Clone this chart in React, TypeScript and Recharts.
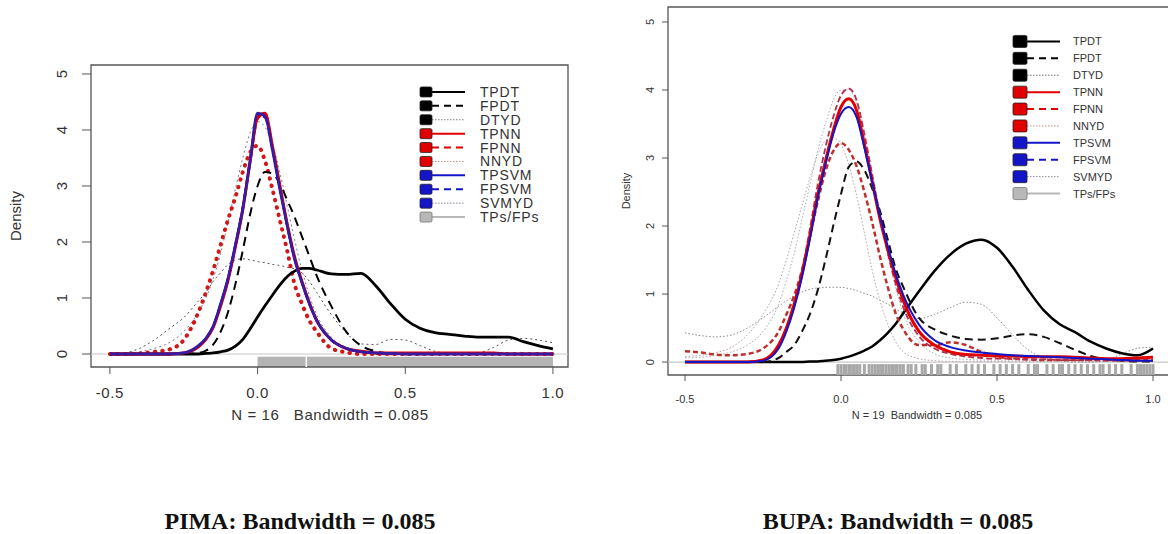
import { ComposedChart, Line, XAxis, YAxis, ReferenceArea, ReferenceLine } from "recharts";

// shared x grid of the density estimates
const xs = [
  -0.5, -0.45, -0.4, -0.35, -0.3, -0.25, -0.2, -0.175, -0.15, -0.125, -0.1, -0.075, -0.05, -0.025,
  0, 0.025, 0.05, 0.075, 0.1, 0.125, 0.15, 0.175, 0.2, 0.25, 0.3, 0.35, 0.4, 0.45, 0.5, 0.55, 0.6,
  0.65, 0.7, 0.75, 0.8, 0.85, 0.9, 0.95, 1.0,
];

const xTicks = [-0.5, 0, 0.5, 1.0];
const yTicks = [0, 1, 2, 3, 4, 5];

// ---- PIMA ----
const pimaTPDT = [0, 0, 0, 0, 0, 0, 0, 0.01, 0.02, 0.04, 0.07, 0.14, 0.26, 0.45, 0.66, 0.86, 1.05, 1.23, 1.38, 1.48, 1.53, 1.53, 1.5, 1.43, 1.42, 1.44, 1.22, 0.9, 0.62, 0.46, 0.38, 0.35, 0.32, 0.3, 0.3, 0.3, 0.22, 0.15, 0.09];
const pimaFPDT = [0, 0, 0, 0, 0, 0, 0.02, 0.06, 0.17, 0.4, 0.75, 1.25, 1.85, 2.5, 3.0, 3.25, 3.22, 3.05, 2.75, 2.45, 2.1, 1.75, 1.4, 0.85, 0.4, 0.15, 0.05, 0.01, 0, 0, 0, 0, 0, 0, 0, 0, 0, 0, 0];
const pimaDTYD = [0, 0.02, 0.1, 0.25, 0.45, 0.65, 0.95, 1.1, 1.3, 1.45, 1.6, 1.68, 1.7, 1.68, 1.65, 1.63, 1.6, 1.58, 1.55, 1.52, 1.45, 1.3, 1.1, 0.7, 0.38, 0.18, 0.17, 0.26, 0.25, 0.15, 0.05, 0.01, 0, 0.02, 0.12, 0.25, 0.28, 0.25, 0.2];
const pimaTPNN = [0, 0, 0, 0, 0, 0.02, 0.13, 0.26, 0.48, 0.86, 1.32, 1.92, 2.58, 3.45, 4.22, 4.3, 3.72, 3.02, 2.33, 1.74, 1.3, 0.92, 0.6, 0.25, 0.1, 0.05, 0.02, 0.02, 0.02, 0.02, 0.02, 0.02, 0.02, 0.02, 0.02, 0, 0, 0, 0];
const pimaFPNN = [0, 0, 0, 0, 0, 0.02, 0.14, 0.27, 0.5, 0.88, 1.33, 1.93, 2.6, 3.45, 4.2, 4.3, 3.7, 3.0, 2.3, 1.72, 1.28, 0.9, 0.6, 0.25, 0.1, 0.04, 0.01, 0, 0, 0, 0, 0, 0, 0, 0, 0, 0, 0, 0];
const pimaNNYD = [0, 0, 0.01, 0.04, 0.08, 0.25, 0.75, 1.1, 1.5, 1.95, 2.4, 2.8, 3.25, 3.6, 3.72, 3.45, 2.95, 2.4, 1.85, 1.25, 0.9, 0.6, 0.4, 0.1, 0.03, 0, 0, 0, 0, 0, 0, 0, 0, 0, 0, 0, 0, 0, 0];
const pimaTPSVM = [0, 0, 0, 0, 0, 0.02, 0.15, 0.28, 0.5, 0.9, 1.35, 1.95, 2.6, 3.45, 4.3, 4.25, 3.65, 2.95, 2.3, 1.7, 1.28, 0.9, 0.6, 0.25, 0.1, 0.04, 0.02, 0.01, 0, 0, 0, 0, 0, 0, 0, 0, 0, 0, 0];
const pimaFPSVM = [0, 0, 0, 0, 0, 0.02, 0.15, 0.28, 0.5, 0.9, 1.36, 1.96, 2.62, 3.48, 4.28, 4.22, 3.66, 2.96, 2.3, 1.7, 1.28, 0.9, 0.6, 0.25, 0.1, 0.04, 0.02, 0.01, 0, 0, 0, 0, 0, 0, 0, 0, 0, 0, 0];
const pimaSVMYD = [0, 0.01, 0.04, 0.1, 0.2, 0.4, 0.75, 1.0, 1.35, 1.8, 2.35, 2.95, 3.5, 3.95, 4.15, 4.05, 3.75, 3.25, 2.65, 2.05, 1.5, 1.05, 0.7, 0.3, 0.12, 0.05, 0.02, 0, 0, 0, 0, 0, 0, 0, 0, 0, 0, 0, 0];
const pimaRugSpan = [0, 1.0];
const pimaRugGap = [0.165];

// ---- BUPA ----
const bupaTPDT = [0, 0, 0, 0, 0, 0, 0, 0, 0, 0, 0.01, 0.01, 0.02, 0.03, 0.05, 0.08, 0.12, 0.17, 0.23, 0.32, 0.43, 0.56, 0.72, 1.04, 1.34, 1.58, 1.74, 1.8, 1.68, 1.4, 1.06, 0.76, 0.56, 0.44, 0.3, 0.2, 0.13, 0.1, 0.2];
const bupaFPDT = [0, 0, 0, 0, 0, 0, 0.06, 0.15, 0.25, 0.45, 0.7, 1.05, 1.5, 2.0, 2.47, 2.87, 2.95, 2.82, 2.55, 2.22, 1.8, 1.38, 1.1, 0.65, 0.48, 0.39, 0.34, 0.33, 0.35, 0.39, 0.41, 0.37, 0.28, 0.18, 0.09, 0.04, 0.02, 0.01, 0.01];
const bupaDTYD = [0.43, 0.39, 0.37, 0.4, 0.5, 0.65, 0.82, 0.9, 0.97, 1.03, 1.07, 1.09, 1.1, 1.1, 1.1, 1.08, 1.05, 1.01, 0.97, 0.91, 0.85, 0.78, 0.72, 0.64, 0.7, 0.8, 0.88, 0.85, 0.65, 0.4, 0.18, 0.06, 0.02, 0, 0, 0.03, 0.12, 0.2, 0.22];
const bupaTPNN = [0, 0, 0, 0, 0, 0.03, 0.25, 0.5, 0.85, 1.3, 1.85, 2.45, 2.95, 3.4, 3.75, 3.87, 3.7, 3.2, 2.65, 2.1, 1.65, 1.25, 0.9, 0.45, 0.25, 0.15, 0.11, 0.1, 0.09, 0.09, 0.08, 0.08, 0.08, 0.07, 0.06, 0.05, 0.05, 0.06, 0.07];
const bupaFPNN = [0.16, 0.14, 0.11, 0.1, 0.12, 0.2, 0.45, 0.7, 0.98, 1.35, 1.85, 2.35, 2.8, 3.1, 3.22, 3.12, 2.88, 2.5, 2.05, 1.55, 1.1, 0.72, 0.48, 0.25, 0.25, 0.29, 0.25, 0.15, 0.08, 0.05, 0.04, 0.03, 0.03, 0.03, 0.03, 0.03, 0.03, 0.03, 0.03];
const bupaNNYD = [0.08, 0.1, 0.14, 0.22, 0.4, 0.7, 1.15, 1.5, 1.9, 2.3, 2.7, 3.05, 3.25, 3.3, 3.2, 2.9, 2.45, 1.9, 1.35, 0.9, 0.55, 0.3, 0.15, 0.05, 0.02, 0.01, 0.01, 0.01, 0.01, 0.01, 0.01, 0.01, 0.01, 0.01, 0.01, 0.01, 0.01, 0.01, 0.01];
const bupaTPSVM = [0, 0, 0, 0, 0, 0.02, 0.2, 0.45, 0.8, 1.25, 1.8, 2.4, 2.9, 3.35, 3.65, 3.75, 3.6, 3.15, 2.65, 2.15, 1.7, 1.3, 0.98, 0.55, 0.32, 0.22, 0.17, 0.14, 0.12, 0.1, 0.09, 0.08, 0.07, 0.06, 0.05, 0.04, 0.03, 0.02, 0.02];
const bupaFPSVM = [0, 0, 0, 0, 0, 0.03, 0.25, 0.5, 0.88, 1.35, 1.95, 2.6, 3.15, 3.6, 3.92, 4.02, 3.85, 3.35, 2.75, 2.15, 1.6, 1.15, 0.8, 0.38, 0.2, 0.12, 0.08, 0.06, 0.05, 0.05, 0.04, 0.04, 0.03, 0.03, 0.03, 0.02, 0.02, 0.02, 0.02];
const bupaSVMYD = [0.06, 0.07, 0.1, 0.15, 0.25, 0.45, 0.85, 1.2, 1.6, 2.1, 2.6, 3.1, 3.5, 3.85, 4.0, 4.0, 3.8, 3.35, 2.8, 2.2, 1.6, 1.1, 0.7, 0.3, 0.12, 0.06, 0.04, 0.03, 0.03, 0.03, 0.03, 0.03, 0.03, 0.03, 0.03, 0.03, 0.03, 0.03, 0.03];
const bupaRug = [
  -0.01, 0.0, 0.01, 0.015, 0.025, 0.03, 0.04, 0.05, 0.06, 0.075, 0.09, 0.1, 0.11, 0.12, 0.13, 0.135,
  0.145, 0.155, 0.165, 0.175, 0.18, 0.19, 0.2, 0.215, 0.225, 0.24, 0.26, 0.27, 0.29, 0.31, 0.32, 0.35,
  0.37, 0.4, 0.42, 0.44, 0.46, 0.49, 0.51, 0.53, 0.55, 0.57, 0.6, 0.62, 0.63, 0.66, 0.68, 0.7, 0.71,
  0.73, 0.75, 0.77, 0.79, 0.81, 0.83, 0.84, 0.86, 0.88, 0.9, 0.93, 0.95, 0.96, 0.97, 0.98, 0.99, 1.0,
];

const legendNames = ["TPDT", "FPDT", "DTYD", "TPNN", "FPNN", "NNYD", "TPSVM", "FPSVM", "SVMYD", "TPs/FPs"];

const BLACK = "#000000";
const RED = "#e00000";
const BLUE = "#1414c8";
const GRAY = "#b8b8b8";

type Series = {
  name: string;
  values: number[];
  color: string;
  width: number;
  dash?: string;
  cap?: "round" | "butt";
};

const pimaSeries: Series[] = [
  { name: "DTYD", values: pimaDTYD, color: "#555", width: 1, dash: "2 3" },
  { name: "SVMYD", values: pimaSVMYD, color: "#7a7a9a", width: 1, dash: "2 3" },
  { name: "NNYD", values: pimaNNYD, color: "#d01818", width: 4, dash: "0.5 7", cap: "round" },
  { name: "TPDT", values: pimaTPDT, color: BLACK, width: 2.8 },
  { name: "FPDT", values: pimaFPDT, color: BLACK, width: 2, dash: "9 6" },
  { name: "FPNN", values: pimaFPNN, color: RED, width: 2.5, dash: "9 4" },
  { name: "TPNN", values: pimaTPNN, color: RED, width: 3 },
  { name: "FPSVM", values: pimaFPSVM, color: BLUE, width: 2, dash: "9 4" },
  { name: "TPSVM", values: pimaTPSVM, color: "#3a1aa0", width: 2.8 },
];

const bupaSeries: Series[] = [
  { name: "DTYD", values: bupaDTYD, color: "#8a8a8a", width: 1, dash: "1.5 2" },
  { name: "NNYD", values: bupaNNYD, color: "#b8a0a8", width: 1, dash: "1.5 2" },
  { name: "SVMYD", values: bupaSVMYD, color: "#a8a8c0", width: 1, dash: "1.5 2" },
  { name: "TPDT", values: bupaTPDT, color: BLACK, width: 2.5 },
  { name: "FPDT", values: bupaFPDT, color: "#111", width: 2, dash: "8 5" },
  { name: "FPNN", values: bupaFPNN, color: "#c0302a", width: 2.5, dash: "5 3" },
  { name: "FPSVM", values: bupaFPSVM, color: "#b03050", width: 1.8, dash: "6 3" },
  { name: "TPNN", values: bupaTPNN, color: RED, width: 3 },
  { name: "TPSVM", values: bupaTPSVM, color: BLUE, width: 2 },
];

function buildRows(series: Series[]) {
  return xs.map((x, i) => {
    const row: Record<string, number> = { x };
    series.forEach((s) => {
      row[s.name] = s.values[i];
    });
    return row;
  });
}

const pimaRows = buildRows(pimaSeries);
const bupaRows = buildRows(bupaSeries);

const legendStyle: Record<string, { color: string; dash?: string; line: string; w: number }> = {
  TPDT: { color: BLACK, line: BLACK, w: 2 },
  FPDT: { color: BLACK, line: BLACK, w: 2, dash: "7 5" },
  DTYD: { color: BLACK, line: "#777", w: 1, dash: "1.5 1.5" },
  TPNN: { color: RED, line: RED, w: 2 },
  FPNN: { color: RED, line: RED, w: 2, dash: "7 5" },
  NNYD: { color: RED, line: "#c88", w: 1, dash: "1.5 1.5" },
  TPSVM: { color: BLUE, line: BLUE, w: 2 },
  FPSVM: { color: BLUE, line: BLUE, w: 2, dash: "7 5" },
  SVMYD: { color: BLUE, line: "#889", w: 1, dash: "1.5 1.5" },
  "TPs/FPs": { color: GRAY, line: GRAY, w: 2 },
};

function RLegend(props: {
  left: number; top: number; rowH: number; sqW: number; sqH: number; lineLen: number;
  textGap: number; fontSize: number; font: string; spacing: number;
}) {
  const { left, top, rowH, sqW, sqH, lineLen, textGap, fontSize, font, spacing } = props;
  const h = rowH * legendNames.length + 10;
  return (
    <svg style={{ position: "absolute", left, top: top - rowH / 2, overflow: "visible" }} width={200} height={h}>
      {legendNames.map((n, i) => {
        const st = legendStyle[n];
        const cy = rowH / 2 + i * rowH;
        return (
          <g key={n}>
            <line x1={sqW} x2={sqW + lineLen} y1={cy} y2={cy} stroke={st.line} strokeWidth={st.w} strokeDasharray={st.dash} />
            <rect x={0} y={cy - sqH / 2} width={sqW} height={sqH} fill={st.color} stroke={n === "TPs/FPs" ? "#777" : "#222"} strokeWidth={0.8} rx={1.5} />
            <text x={sqW + lineLen + textGap} y={cy} dy="0.36em" fontSize={fontSize} fontFamily={font} fill="#333" letterSpacing={spacing}>
              {n}
            </text>
          </g>
        );
      })}
    </svg>
  );
}

const SANS = "'Liberation Sans', Arial, sans-serif";
const NARROW = "'Liberation Sans Narrow', 'Liberation Sans', Arial, sans-serif";

function makeXTick(fontSize: number, font: string, spacing: number) {
  return (p: any) => (
    <text x={p.x} y={p.y} dy="0.71em" textAnchor="middle" fontSize={fontSize} fontFamily={font} fill="#333" letterSpacing={spacing}>
      {Number(p.payload.value).toFixed(1)}
    </text>
  );
}

function makeYTick(fontSize: number, font: string) {
  return (p: any) => (
    <text x={p.x} y={p.y} textAnchor="middle" fontSize={fontSize} fontFamily={font} fill="#333" transform={`rotate(-90, ${p.x}, ${p.y})`}>
      {p.payload.value}
    </text>
  );
}

function DensityPanel(props: {
  rows: Record<string, number>[];
  series: Series[];
  width: number;
  height: number;
  margin: { top: number; right: number; left: number; bottom: number };
  yAxisW: number;
  xAxisH: number;
  xDomain: [number, number];
  yDomain: [number, number];
  rugTop: number;
  xLabel: string;
  xLabelPos: [number, number];
  yLabelPos: [number, number];
  fontSize: number;
  labelSize: number;
  font: string;
  spacing: number;
  xTickSize: number;
  xTickMargin: number;
  yTickSize: number;
  yTickMargin: number;
  rugSpan?: number[];
  rugGap?: number[];
  rug?: number[];
}) {
  const p = props;
  const [x0, x1] = p.xDomain;
  const [y0, y1] = p.yDomain;
  return (
    <ComposedChart width={p.width} height={p.height} data={p.rows} margin={p.margin}>
      <XAxis
        dataKey="x"
        type="number"
        domain={p.xDomain}
        allowDataOverflow
        ticks={xTicks}
        axisLine={false}
        tickLine={{ stroke: "#555" }}
        tickSize={p.xTickSize}
        tickMargin={p.xTickMargin}
        height={p.xAxisH}
        tick={makeXTick(p.fontSize, p.font, p.spacing)}
        label={{
          content: () => (
            <text
              x={p.xLabelPos[0]}
              y={p.xLabelPos[1]}
              dy="0.36em"
              textAnchor="middle"
              fontSize={p.labelSize}
              fontFamily={p.font}
              fill="#333"
              letterSpacing={p.spacing}
              style={{ whiteSpace: "pre" }}
            >
              {p.xLabel}
            </text>
          ),
        }}
      />
      <YAxis
        type="number"
        domain={p.yDomain}
        allowDataOverflow
        ticks={yTicks}
        axisLine={false}
        tickLine={{ stroke: "#555" }}
        tickSize={p.yTickSize}
        tickMargin={p.yTickMargin}
        width={p.yAxisW}
        tick={makeYTick(p.fontSize, p.font)}
        label={{
          content: () => (
            <text
              x={p.yLabelPos[0]}
              y={p.yLabelPos[1]}
              textAnchor="middle"
              fontSize={p.labelSize}
              fontFamily={p.font}
              fill="#333"
              transform={`rotate(-90, ${p.yLabelPos[0]}, ${p.yLabelPos[1]})`}
            >
              Density
            </text>
          ),
        }}
      />
      <ReferenceLine y={0} stroke="#c8c8c8" strokeWidth={1.2} />
      {p.rugSpan && (
        <ReferenceArea x1={p.rugSpan[0]} x2={p.rugSpan[1]} y1={y0} y2={p.rugTop} fill="#b4b4b4" fillOpacity={1} stroke="none" />
      )}
      {p.rugGap &&
        p.rugGap.map((g) => (
          <ReferenceLine key={`gap${g}`} segment={[{ x: g, y: y0 }, { x: g, y: p.rugTop }]} stroke="#ffffff" strokeWidth={1.5} />
        ))}
      {p.rug &&
        p.rug.map((r, i) => (
          <ReferenceLine key={`rug${i}`} segment={[{ x: r, y: y0 }, { x: r, y: p.rugTop }]} stroke="#a8a8a8" strokeWidth={3} />
        ))}
      {p.series.map((s) => (
        <Line
          key={s.name}
          dataKey={s.name}
          type="monotone"
          stroke={s.color}
          strokeWidth={s.width}
          strokeDasharray={s.dash}
          strokeLinecap={s.cap || "butt"}
          dot={false}
          activeDot={false}
          isAnimationActive={false}
        />
      ))}
      <ReferenceArea x1={x0} x2={x1} y1={y0} y2={y1} fill="none" stroke="#555" strokeWidth={1.3} ifOverflow="visible" />
    </ComposedChart>
  );
}

const captionStyle = {
  position: "absolute" as const,
  top: 507,
  width: 400,
  textAlign: "center" as const,
  fontFamily: "'Liberation Serif', 'Times New Roman', serif",
  fontWeight: "bold" as const,
  fontSize: 24,
  lineHeight: "28px",
  color: "#111",
};

export default function App() {
  return (
    <div
      style={{
        position: "absolute",
        left: 0,
        top: 0,
        width: 1168,
        height: 534,
        background: "#fff",
        overflow: "hidden",
      }}
    >
      <div style={{ position: "absolute", left: 0, top: 0 }}>
        <DensityPanel
          rows={pimaRows}
          series={pimaSeries}
          width={590}
          height={440}
          margin={{ top: 65, right: 22, left: 0, bottom: 0 }}
          yAxisW={91}
          xAxisH={73}
          xDomain={[-0.564, 1.051]}
          yDomain={[-0.232, 5.16]}
          rugTop={-0.05}
          rugSpan={pimaRugSpan}
          rugGap={pimaRugGap}
          xLabel="N = 16   Bandwidth = 0.085"
          xLabelPos={[330, 415]}
          yLabelPos={[21, 216]}
          fontSize={15}
          labelSize={15}
          font={SANS}
          spacing={0.6}
          xTickSize={7}
          xTickMargin={13}
          yTickSize={9}
          yTickMargin={15}
        />
      </div>
      <div style={{ position: "absolute", left: 600, top: 0 }}>
        <DensityPanel
          rows={bupaRows}
          series={bupaSeries}
          width={580}
          height={440}
          margin={{ top: 7, right: 10, left: 0, bottom: 0 }}
          yAxisW={68}
          xAxisH={65}
          xDomain={[-0.5545, 1.0545]}
          yDomain={[-0.19, 5.22]}
          rugTop={-0.03}
          rug={bupaRug}
          xLabel="N = 19  Bandwidth = 0.085"
          xLabelPos={[317, 415]}
          yLabelPos={[30, 191]}
          fontSize={11}
          labelSize={11}
          font={NARROW}
          spacing={0}
          xTickSize={6}
          xTickMargin={14}
          yTickSize={6}
          yTickMargin={8}
        />
      </div>
      <RLegend left={420} top={92} rowH={13.9} sqW={12} sqH={10} lineLen={33} textGap={15} fontSize={14} font={SANS} spacing={0.8} />
      <RLegend left={1013} top={41} rowH={16.9} sqW={14} sqH={12} lineLen={33} textGap={13} fontSize={11} font={NARROW} spacing={0} />
      <div style={{ ...captionStyle, left: 100 }}>PIMA: Bandwidth = 0.085</div>
      <div style={{ ...captionStyle, left: 698 }}>BUPA: Bandwidth = 0.085</div>
    </div>
  );
}
